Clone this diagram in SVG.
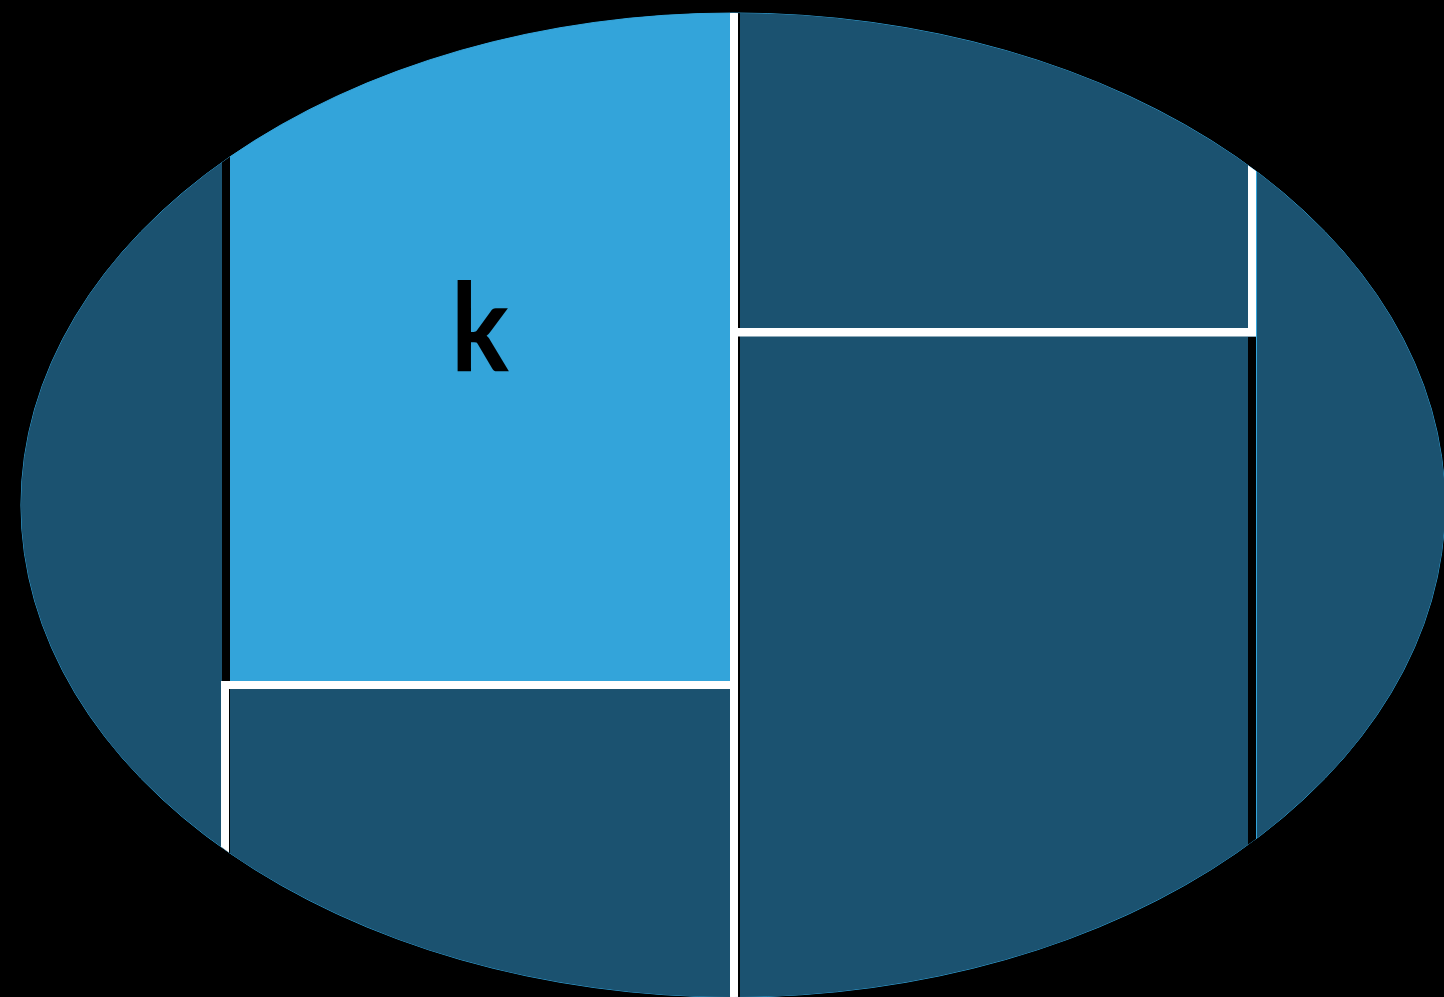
<svg xmlns="http://www.w3.org/2000/svg" width="1444" height="997" viewBox="0 0 1444 997">
  <defs>
    <clipPath id="ell">
      <ellipse cx="733" cy="505" rx="712" ry="492"/>
    </clipPath>
    <style>
      .dark { fill: #1b5270; }
      .light { fill: #33a4da; }
      .sep { fill: #ffffff; }
      .gap { fill: #000000; }
      .lbl { font-family: Lato, "Liberation Sans", sans-serif; font-weight: bold; font-size: 123px; fill: #000000; }
    </style>
  </defs>
  <rect x="0" y="0" width="1444" height="997" fill="#000000"/>
  <g id="ellipse">
    <ellipse cx="733" cy="505" rx="712" ry="492" class="dark" stroke="#33a4da" stroke-width="1"/>
  </g>
  <g clip-path="url(#ell)">
    <g id="node-left"><rect x="0" y="0" width="222" height="997" class="dark"/></g>
    <g id="node-k">
      <rect x="230" y="0" width="500" height="681" class="light"/>
      <text transform="translate(480,371) scale(0.88,1)" x="0" y="0" text-anchor="middle" class="lbl">k</text>
    </g>
    <g id="node-bottom-left"><rect x="230" y="689" width="500" height="308" class="dark"/></g>
    <g id="node-top-right"><rect x="740" y="0" width="508" height="328" class="dark"/></g>
    <g id="node-bottom-right"><rect x="740" y="337" width="508" height="660" class="dark"/></g>
    <g id="node-right"><rect x="1257" y="0" width="200" height="997" class="dark"/></g>
    <g id="separators">
      <rect x="222" y="0" width="8" height="997" class="gap"/>
      <rect x="738" y="0" width="2" height="997" class="gap"/>
      <rect x="1248" y="337" width="8" height="660" class="gap"/>
      <rect x="1256" y="0" width="1" height="997" class="light"/>
      <rect x="730" y="0" width="8" height="997" class="sep"/>
      <rect x="221" y="681" width="509" height="8" class="sep"/>
      <rect x="221" y="681" width="8" height="316" class="sep"/>
      <rect x="738" y="328" width="518" height="8.5" class="sep"/>
      <rect x="1248" y="0" width="8" height="336" class="sep"/>
    </g>
  </g>
</svg>
